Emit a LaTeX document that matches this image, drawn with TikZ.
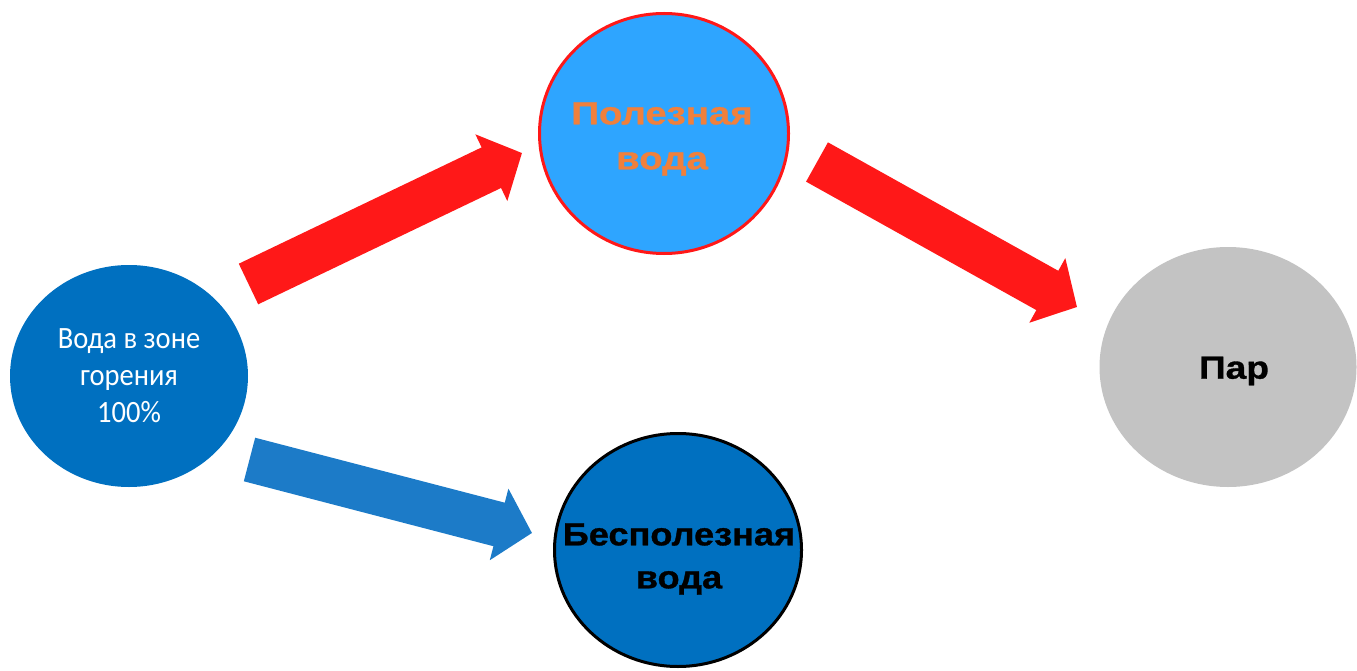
\documentclass[tikz,border=0pt]{standalone}
\usepackage{fontspec}
\usetikzlibrary{arrows.meta,shapes.geometric}
\newfontfamily\calibri[FakeStretch=0.92]{Carlito}
\newfontfamily\arialT[FakeStretch=1.2,FakeBold=1]{Liberation Sans Bold}
\newfontfamily\arialB[FakeStretch=1.13,FakeBold=1]{Liberation Sans Bold}
\newfontfamily\arialP[FakeStretch=1.16,FakeBold=1]{Liberation Sans Bold}
\definecolor{darkblue}{RGB}{0,112,192}
\definecolor{lightblue}{RGB}{46,165,255}
\definecolor{myred}{RGB}{255,24,24}
\definecolor{arrowblue}{RGB}{28,123,200}
\definecolor{orangetxt}{RGB}{240,128,60}
\definecolor{steamgray}{RGB}{195,195,195}
\tikzset{
  blob/.style={ellipse, inner sep=0pt},
  fatarrow/.style={line width=45pt, -{Triangle[width=72pt,length=34pt]}},
  lbl/.style={align=center, inner sep=0pt}
}
\begin{document}
\begin{tikzpicture}[x=1pt,y=-1pt]
\useasboundingbox (0,0) rectangle (1357,671);
% circles
\node[blob, fill=darkblue, minimum width=238pt, minimum height=222pt] (src) at (129,376) {};
\node[blob, fill=lightblue, draw=myred, line width=3pt, minimum width=249pt, minimum height=240pt] (use) at (664,133.5) {};
\node[blob, fill=darkblue, draw=black, line width=3pt, minimum width=247pt, minimum height=233pt] (waste) at (678,550) {};
\node[blob, fill=steamgray, minimum width=257pt, minimum height=240pt] (steam) at (1228,367) {};
% labels
\node[lbl, text=white, font=\calibri\fontsize{31}{37}\selectfont] (srcT) at (src) {Вода в зоне\\горения\\100\%};
\node[lbl, text=orangetxt, font=\arialT\fontsize{32}{45}\selectfont] (useT) at (662,139) {Полезная\\вода};
\node[lbl, text=black, font=\arialB\fontsize{32}{43}\selectfont] (wasteT) at (679,559) {Бесполезная\\вода};
\node[lbl, text=black, font=\arialP\fontsize{32}{38}\selectfont] (steamT) at (1234,371) {Пар};
% arrows
\coordinate (a1s) at (248.5,284); \coordinate (a1e) at (522,153);
\coordinate (a2s) at (817,162); \coordinate (a2e) at (1077,307);
\coordinate (a3s) at (249.5,459.5); \coordinate (a3e) at (532,533);
\draw[fatarrow, myred] (a1s) -- (a1e);
\draw[fatarrow, myred] (a2s) -- (a2e);
\draw[fatarrow, arrowblue] (a3s) -- (a3e);
\end{tikzpicture}
\end{document}
